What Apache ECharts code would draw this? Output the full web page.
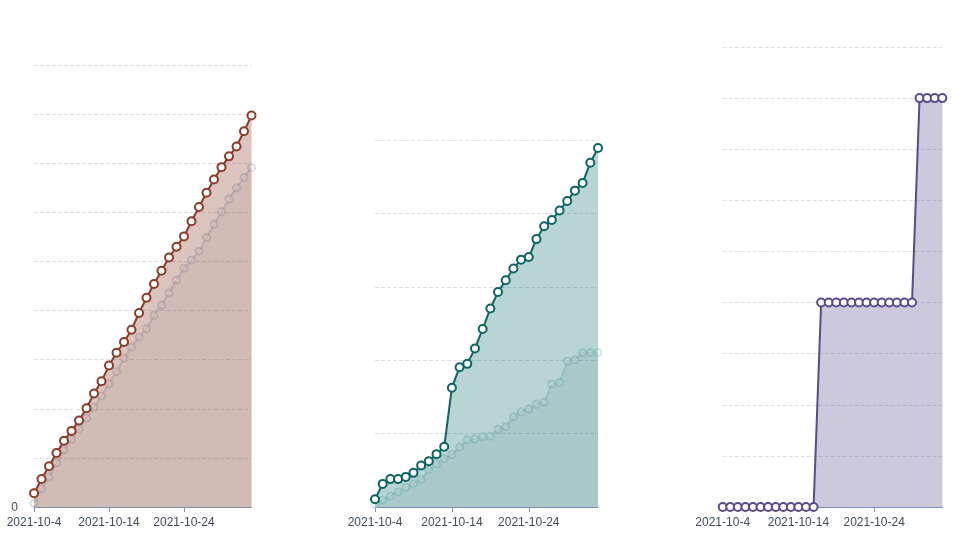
<!DOCTYPE html>
<html>
<head>
<meta charset="utf-8">
<script src="https://cdn.jsdelivr.net/npm/echarts@6/dist/echarts.min.js"></script>
<style>html,body{margin:0;padding:0;background:#fff;}#c{width:963px;height:548px;}</style>
</head>
<body>
<div id="c"></div>
<script>
const categories = ['2021-10-4','2021-10-5','2021-10-6','2021-10-7','2021-10-8','2021-10-9','2021-10-10','2021-10-11','2021-10-12','2021-10-13',
  '2021-10-14','2021-10-15','2021-10-16','2021-10-17','2021-10-18','2021-10-19','2021-10-20','2021-10-21','2021-10-22','2021-10-23',
  '2021-10-24','2021-10-25','2021-10-26','2021-10-27','2021-10-28','2021-10-29','2021-10-30','2021-10-31','2021-11-1','2021-11-2'];

const chart1Main = [2.8,5.7,8.3,11.0,13.5,15.5,17.6,20.1,23.1,25.6,28.8,31.4,33.6,36.1,39.5,42.6,45.4,48.1,50.8,53.0,55.1,58.2,61.1,64.0,66.7,69.2,71.4,73.4,76.5,79.7];
const chart1Prev = [0.8,3.7,6.1,9.0,11.6,13.8,15.9,18.1,20.3,22.6,25.1,27.6,30.3,32.6,34.6,36.3,39.0,41.1,43.6,46.2,48.6,50.3,52.1,54.9,57.5,60.1,62.7,65.0,67.1,69.1];

const chart2Main = [2.1,6.3,7.6,7.6,8.2,9.3,11.3,12.5,14.4,16.4,32.5,38.1,39.0,43.2,48.5,54.1,58.6,61.8,65.0,67.4,68.1,73.0,76.5,78.2,80.8,83.4,86.2,88.3,93.8,97.8];
const chart2Prev = [0.8,1.9,3.0,4.1,5.4,6.3,7.5,10.1,11.7,13.2,14.3,16.3,18.3,18.6,19.2,19.3,21.2,21.9,24.6,25.9,26.7,28.0,28.6,33.5,33.9,39.7,40.1,42.0,42.1,42.1];

const chart3Main = [0,0,0,0,0,0,0,0,0,0,0,0,0,40,40,40,40,40,40,40,40,40,40,40,40,40,80,80,80,80];

const yMax = [90, 100, 90];
const yInterval = [10, 20, 10];

const grids = [
  {left: 34, top: 65, width: 217.5, height: 442},
  {left: 375, top: 140, width: 223, height: 367},
  {left: 722.7, top: 47, width: 219.6, height: 460}
];

function xAxis(i){
  return {
    type: 'category', gridIndex: i, data: categories, boundaryGap: false,
    axisLine: {lineStyle: {color: '#7d8db5', width: 1}},
    axisTick: {show: true, interval: 9, lineStyle: {color: '#7d8db5'}},
    axisLabel: {interval: 9, color: '#404b5c', fontSize: 12, margin: 10, fontFamily: 'Liberation Sans, Arial, sans-serif'}
  };
}
function yAxis(i){
  return {
    type: 'value', gridIndex: i, min: 0, max: yMax[i], interval: yInterval[i],
    axisLine: {show: false}, axisTick: {show: false},
    splitLine: {lineStyle: {type: 'dashed', color: '#dcdfe6'}},
    axisLabel: {
      margin: 16, color: '#404b5c', fontSize: 12, fontFamily: 'Liberation Sans, Arial, sans-serif',
      verticalAlign: 'top', padding: [-5, 0, 0, 0],
      formatter: function(v){ return (i === 0 && v === 0) ? '0' : ''; }
    }
  };
}
function prevSeries(i, data, color, area){
  return {
    type: 'line', xAxisIndex: i, yAxisIndex: i, data: data,
    symbol: 'emptyCircle', symbolSize: 7, z: 2, showAllSymbol: true,
    lineStyle: {color: color, width: 2, opacity: 0.5},
    itemStyle: {color: color, borderWidth: 2, opacity: 0.5},
    areaStyle: {color: area, opacity: 1},
    silent: true
  };
}
function mainSeries(i, data, color, area){
  return {
    type: 'line', xAxisIndex: i, yAxisIndex: i, data: data,
    symbol: 'emptyCircle', symbolSize: 8, z: 3, showAllSymbol: true,
    lineStyle: {color: color, width: 2},
    itemStyle: {color: color, borderWidth: 2},
    areaStyle: {color: area, opacity: 1}
  };
}

const chart = echarts.init(document.getElementById('c'), null, {renderer: 'canvas'});
chart.setOption({
  animation: false,
  backgroundColor: '#ffffff',
  grid: grids,
  xAxis: [xAxis(0), xAxis(1), xAxis(2)],
  yAxis: [yAxis(0), yAxis(1), yAxis(2)],
  series: [
    prevSeries(0, chart1Prev, '#a8bdd0', 'rgba(150,160,170,0.14)'),
    mainSeries(0, chart1Main, '#8f3a27', 'rgba(140,58,40,0.30)'),
    prevSeries(1, chart2Prev, '#a9cbd0', 'rgba(60,110,120,0.10)'),
    mainSeries(1, chart2Main, '#0b6565', 'rgba(0,100,100,0.28)'),
    mainSeries(2, chart3Main, '#5b4a8c', 'rgba(90,75,140,0.30)')
  ]
});
</script>
</body>
</html>
